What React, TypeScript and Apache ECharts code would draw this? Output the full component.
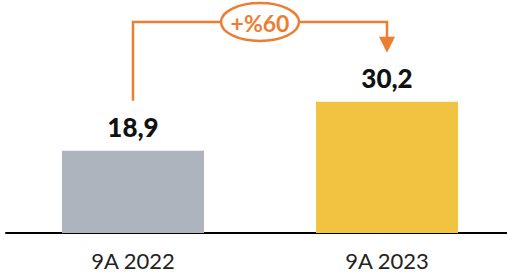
import React, { useEffect, useRef } from "react";
import * as echarts from "echarts";

const categories = ["9A 2022", "9A 2023"];
const values = [18.9, 30.2];
const barColors = ["#AEB4BE", "#F2C241"];
const accent = "#ED7D31";

export default function App() {
  const ref = useRef<HTMLDivElement>(null);
  useEffect(() => {
    if (!ref.current) return;
    const chart = echarts.init(ref.current, null, { renderer: "svg" });
    const font = "Lato, 'Open Sans', sans-serif";
    chart.setOption({
      animation: false,
      grid: { left: 6, width: 508, top: 59, bottom: 46, containLabel: false, outerBoundsMode: "none" },
      xAxis: {
        type: "category",
        data: categories,
        axisLine: { lineStyle: { color: "#000", width: 2 } },
        axisTick: { show: false },
        axisLabel: { color: "#222", fontSize: 22, fontFamily: font, margin: 16 },
      },
      yAxis: { type: "value", min: 0, max: 40, show: false, splitLine: { show: false } },
      series: [
        {
          type: "bar",
          barWidth: 142,
          data: values.map((v, i) => ({ value: v, itemStyle: { color: barColors[i] } })),
          label: {
            show: true,
            position: "top",
            distance: 11,
            color: "#111",
            fontSize: 26,
            fontWeight: 900,
            fontFamily: font,
            formatter: (p: any) => String(p.value).replace(".", ","),
          },
        },
      ],
    });
    const p1 = chart.convertToPixel({ seriesIndex: 0 }, [0, values[0]]) as number[];
    const p2 = chart.convertToPixel({ seriesIndex: 0 }, [1, values[1]]) as number[];
    const topY = 22;
    const pct = Math.round((values[1] / values[0] - 1) * 100);
    const cx = (p1[0] + p2[0]) / 2;
    chart.setOption({
      graphic: [
        {
          type: "polyline",
          shape: {
            points: [
              [p1[0], p1[1] - 50],
              [p1[0], topY],
              [p2[0], topY],
              [p2[0], p2[1] - 64],
            ],
          },
          style: { stroke: accent, lineWidth: 2.5, fill: null },
        },
        {
          type: "polygon",
          shape: {
            points: [
              [p2[0] - 8, p2[1] - 65],
              [p2[0] + 8, p2[1] - 65],
              [p2[0], p2[1] - 49],
            ],
          },
          style: { fill: accent },
        },
        {
          type: "ellipse",
          shape: { cx, cy: topY, rx: 39, ry: 19 },
          style: { fill: "#fff", stroke: accent, lineWidth: 2.5 },
        },
        {
          type: "text",
          x: cx,
          y: topY + 1,
          style: {
            text: "+%" + pct,
            fill: accent,
            fontSize: 23,
            fontWeight: "bold",
            fontFamily: font,
            align: "center",
            verticalAlign: "middle",
          },
        },
      ],
    });
    return () => chart.dispose();
  }, []);
  return (
    <div
      ref={ref}
      style={{ position: "absolute", left: 0, top: 0, width: 507, height: 279 }}
    />
  );
}
